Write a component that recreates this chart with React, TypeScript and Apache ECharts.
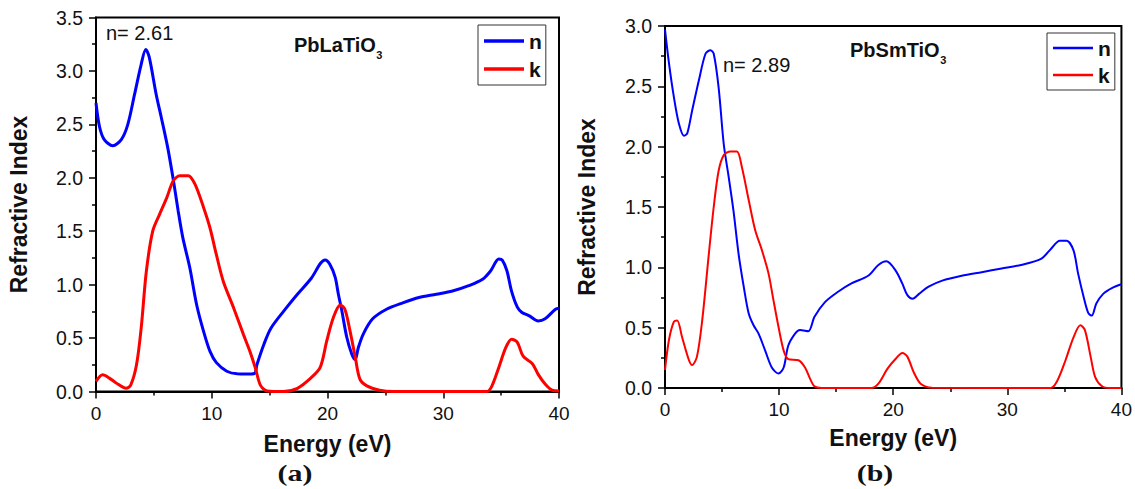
import React, { useEffect, useRef } from "react";
import * as echarts from "echarts";

// ---- Panel (a): PbLaTiO3 ----
const aNEnergy = [0, 0.3, 0.7, 1.45, 2.2, 2.75, 3.33, 3.9, 4.3, 4.6, 5.2, 5.65, 6.2, 6.65, 7.1, 7.5, 8.1, 8.7, 9.3, 9.85, 10.4, 11.3, 12.2, 13.0, 13.7, 13.9, 14.5, 15.1, 16.2, 17.4, 18.6, 19.4, 19.8, 20.2, 20.66, 20.94, 21.23, 21.66, 22.1, 22.4, 22.66, 23.1, 23.9, 25.1, 26.5, 27.9, 29.4, 30.8, 32.2, 33.4, 34.1, 34.8, 35.1, 35.5, 35.9, 36.4, 36.8, 37.4, 38.2, 38.8, 39.7, 40];
const aNValues = [2.70, 2.48, 2.36, 2.30, 2.36, 2.50, 2.78, 3.06, 3.20, 3.13, 2.78, 2.56, 2.28, 2.00, 1.69, 1.44, 1.16, 0.81, 0.56, 0.375, 0.27, 0.19, 0.165, 0.163, 0.17, 0.25, 0.44, 0.59, 0.75, 0.91, 1.06, 1.20, 1.23, 1.19, 1.07, 0.91, 0.76, 0.51, 0.35, 0.30, 0.41, 0.54, 0.68, 0.77, 0.83, 0.88, 0.91, 0.94, 0.99, 1.05, 1.13, 1.24, 1.23, 1.13, 0.94, 0.79, 0.74, 0.71, 0.66, 0.68, 0.77, 0.78];
const aKEnergy = [0, 0.58, 1.16, 1.74, 2.6, 3.0, 3.5, 3.9, 4.35, 4.9, 5.5, 6.1, 6.67, 7.25, 7.97, 8.55, 9.3, 9.85, 10.4, 11.0, 11.9, 12.75, 13.3, 13.77, 14.2, 14.8, 16.2, 17.4, 18.55, 19.37, 19.94, 20.5, 21.1, 21.5, 21.94, 22.4, 22.8, 23.4, 24.5, 25.7, 33.8, 34.2, 34.8, 35.4, 35.9, 36.4, 36.9, 37.7, 38.2, 38.8, 39.4, 40];
const aKValues = [0.094, 0.156, 0.125, 0.08, 0.03, 0.06, 0.25, 0.59, 1.125, 1.5, 1.66, 1.81, 1.97, 2.02, 2.02, 1.94, 1.72, 1.53, 1.28, 1.03, 0.78, 0.53, 0.375, 0.22, 0.06, 0.005, 0, 0.03, 0.125, 0.225, 0.475, 0.69, 0.81, 0.77, 0.57, 0.32, 0.116, 0.053, 0.012, 0, 0, 0.05, 0.225, 0.41, 0.49, 0.46, 0.33, 0.26, 0.16, 0.07, 0.012, 0.005];

// ---- Panel (b): PbSmTiO3 ----
const bNEnergy = [0, 0.35, 0.78, 1.22, 1.66, 1.95, 2.38, 2.97, 3.55, 3.98, 4.27, 4.7, 5.15, 5.58, 6.0, 6.45, 6.9, 7.33, 7.76, 8.2, 8.78, 9.36, 9.94, 10.4, 10.8, 11.4, 11.83, 12.56, 13.1, 14.0, 15.2, 16.3, 17.8, 18.7, 19.4, 20.2, 20.8, 21.24, 21.7, 22.26, 23.1, 24.3, 26.0, 27.75, 29.5, 31.2, 32.95, 33.8, 34.6, 35.2, 35.8, 36.2, 36.7, 37.1, 37.4, 37.8, 38.4, 39.2, 40];
const bNValues = [2.97, 2.69, 2.41, 2.19, 2.09, 2.11, 2.30, 2.55, 2.77, 2.80, 2.77, 2.49, 2.02, 1.75, 1.47, 1.11, 0.84, 0.62, 0.52, 0.45, 0.31, 0.17, 0.12, 0.17, 0.35, 0.45, 0.48, 0.47, 0.59, 0.71, 0.80, 0.865, 0.93, 1.02, 1.05, 0.975, 0.865, 0.77, 0.74, 0.78, 0.84, 0.89, 0.93, 0.96, 0.99, 1.02, 1.07, 1.15, 1.22, 1.22, 1.14, 0.95, 0.75, 0.62, 0.60, 0.70, 0.78, 0.83, 0.86];
const bKEnergy = [0, 0.35, 0.78, 1.07, 1.5, 2.1, 2.38, 2.8, 3.26, 3.84, 4.27, 4.7, 5.15, 5.73, 6.3, 6.74, 7.33, 7.9, 8.5, 9.07, 9.5, 9.94, 10.4, 10.8, 11.7, 12.27, 12.7, 13.1, 13.7, 18.1, 18.7, 19.5, 20.2, 20.8, 21.24, 21.8, 22.4, 23.4, 33.8, 34.4, 35.1, 35.8, 36.4, 36.8, 37.3, 37.7, 38.3, 39.0, 40];
const bKValues = [0.15, 0.40, 0.55, 0.56, 0.42, 0.23, 0.19, 0.26, 0.56, 1.11, 1.5, 1.80, 1.93, 1.96, 1.96, 1.83, 1.56, 1.31, 1.14, 0.95, 0.73, 0.51, 0.31, 0.24, 0.23, 0.17, 0.08, 0.014, 0, 0, 0.036, 0.16, 0.24, 0.29, 0.26, 0.13, 0.036, 0.003, 0, 0.064, 0.23, 0.42, 0.52, 0.48, 0.26, 0.09, 0.014, 0, 0];

const seriesNames = ["n", "k"];
const xTitle = "Energy (eV)";
const yTitle = "Refractive Index";
const panelCaptions = ["(a)", "(b)"];
const materialNames = ["PbLaTiO", "PbSmTiO"];
const subscript = "3";
const nAnnotations = ["n= 2.61", "n= 2.89"];
const yMaxes = [3.5, 3.0];

const SANS = "'Liberation Sans', Arial, sans-serif";
const SERIF = "'Liberation Serif', 'Times New Roman', serif";

const zip = (xs: number[], ys: number[]) => xs.map((x, i) => [x, ys[i]]);

function measure(text: string, font: string): number {
  const c = document.createElement("canvas").getContext("2d");
  if (!c) return text.length * 10;
  c.font = font;
  return c.measureText(text).width;
}

export default function App() {
  const ref = useRef<HTMLDivElement>(null);
  useEffect(() => {
    if (!ref.current) return;
    const chart = echarts.init(ref.current, undefined, { renderer: "svg" });

    const grids = [
      { left: 96, top: 17.5, width: 463, height: 374 },
      { left: 665, top: 26, width: 459, height: 362 },
    ];
    const xNameGaps = [41, 38];
    const yNameGaps = [66, 67];

    const mkX = (i: number) => ({
      type: "value",
      gridIndex: i,
      min: 0,
      max: 40,
      interval: 10,
      name: xTitle,
      nameLocation: "middle",
      nameGap: xNameGaps[i],
      nameTextStyle: { fontFamily: SANS, fontWeight: "bold", fontSize: 23, color: "#111" },
      axisLine: { lineStyle: { color: "#000", width: 2 } },
      axisTick: { show: true, inside: false, length: 7, lineStyle: { color: "#000", width: 1.5 } },
      minorTick: { show: true, splitNumber: 2, length: 4, lineStyle: { color: "#000", width: 1.5 } },
      splitLine: { show: false },
      minorSplitLine: { show: false },
      axisLabel: { fontFamily: SANS, fontSize: 19, color: "#111", margin: 12 },
    });
    const mkY = (i: number) => ({
      type: "value",
      gridIndex: i,
      min: 0,
      max: yMaxes[i],
      interval: 0.5,
      name: yTitle,
      nameLocation: "middle",
      nameRotate: 90,
      nameGap: yNameGaps[i],
      nameTextStyle: { fontFamily: SANS, fontWeight: "bold", fontSize: 23, color: "#111" },
      axisLine: { lineStyle: { color: "#000", width: 2 } },
      axisTick: { show: true, inside: false, length: 7, lineStyle: { color: "#000", width: 1.5 } },
      minorTick: { show: true, splitNumber: 2, length: 4, lineStyle: { color: "#000", width: 1.5 } },
      splitLine: { show: false },
      minorSplitLine: { show: false },
      axisLabel: {
        fontFamily: SANS,
        fontSize: 19.5,
        color: "#111",
        margin: 13,
        formatter: (v: number) => v.toFixed(1),
      },
    });

    const lineSeries = (name: string, data: number[][], color: string, idx: number, width: number) => ({
      type: "line",
      name,
      xAxisIndex: idx,
      yAxisIndex: idx,
      data,
      showSymbol: false,
      symbol: "none",
      smooth: 0.3,
      clip: true,
      lineStyle: { color, width },
      itemStyle: { color },
    });

    const legendCommon = {
      orient: "vertical",
      data: seriesNames,
      icon: "rect",
      itemWidth: 40,
      borderColor: "#333",
      borderWidth: 1,
      backgroundColor: "#fff",
      selectedMode: false,
      textStyle: { fontFamily: SANS, fontWeight: "bold", fontSize: 21, color: "#111", lineHeight: 22 },
    };

    const txt = (x: number, y: number, text: string, size: number, weight: string, family = SANS, align = "left", scaleX = 1) => ({
      type: "text",
      x,
      y,
      scaleX,
      style: {
        text,
        fontSize: size,
        fontWeight: weight,
        fontFamily: family,
        fill: "#111",
        align,
        verticalAlign: "middle",
      },
    });

    const matFont = `bold 20px ${SANS}`;
    const wA = measure(materialNames[0], matFont);
    const wB = measure(materialNames[1], matFont);

    chart.setOption({
      animation: false,
      backgroundColor: "#fff",
      grid: grids.map((g) => ({ ...g, show: true, borderColor: "#000", borderWidth: 2, backgroundColor: "transparent" })),
      xAxis: [mkX(0), mkX(1)],
      yAxis: [mkY(0), mkY(1)],
      legend: [
        { ...legendCommon, left: 478, top: 25, padding: [5, 4, 5, 6], itemHeight: 3.5, itemGap: 6 },
        { ...legendCommon, left: 1047, top: 33, padding: [4, 4, 4, 6], itemHeight: 2.5, itemGap: 5 },
      ],
      series: [
        lineSeries(seriesNames[0], zip(aNEnergy, aNValues), "#0000ff", 0, 3),
        lineSeries(seriesNames[1], zip(aKEnergy, aKValues), "#ff0000", 0, 3),
        lineSeries(seriesNames[0], zip(bNEnergy, bNValues), "#0000ff", 1, 2),
        lineSeries(seriesNames[1], zip(bKEnergy, bKValues), "#ff0000", 1, 2),
      ],
      graphic: [
        txt(106, 33, nAnnotations[0], 20, "normal"),
        txt(294, 45, materialNames[0], 20, "bold"),
        txt(294 + wA + 0.5, 55, subscript, 11, "bold"),
        txt(723, 65, nAnnotations[1], 20, "normal"),
        txt(850, 50, materialNames[1], 20, "bold"),
        txt(850 + wB + 0.5, 60, subscript, 11, "bold"),
        txt(295, 473, panelCaptions[0], 23, "bold", SERIF, "center", 1.3),
        txt(875, 473, panelCaptions[1], 23, "bold", SERIF, "center", 1.3),
      ],
    });
    return () => chart.dispose();
  }, []);
  return (
    <div
      ref={ref}
      style={{ position: "absolute", left: 0, top: 0, width: 1135, height: 489, background: "#fff" }}
    />
  );
}
